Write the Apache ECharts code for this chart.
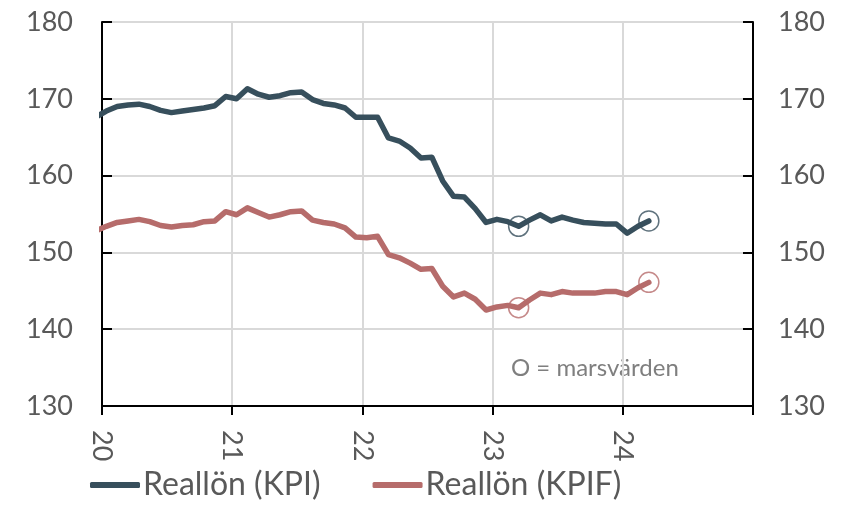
<!DOCTYPE html>
<html>
<head>
<meta charset="utf-8">
<script src="https://cdn.jsdelivr.net/npm/echarts@6/dist/echarts.min.js"></script>
<style>
  html, body { margin: 0; padding: 0; background: #fff; }
  #main { width: 844px; height: 506px; }
</style>
</head>
<body>
<div id="main"></div>
<script>
// manader, dec 2019 - mar 2024
var months = [
  '2019-12',
  '2020-01', '2020-02', '2020-03', '2020-04', '2020-05', '2020-06', '2020-07', '2020-08', '2020-09', '2020-10', '2020-11', '2020-12',
  '2021-01', '2021-02', '2021-03', '2021-04', '2021-05', '2021-06', '2021-07', '2021-08', '2021-09', '2021-10', '2021-11', '2021-12',
  '2022-01', '2022-02', '2022-03', '2022-04', '2022-05', '2022-06', '2022-07', '2022-08', '2022-09', '2022-10', '2022-11', '2022-12',
  '2023-01', '2023-02', '2023-03', '2023-04', '2023-05', '2023-06', '2023-07', '2023-08', '2023-09', '2023-10', '2023-11', '2023-12',
  '2024-01', '2024-02', '2024-03'
];
var realKPI = [
  167.6,
  168.4, 169.0, 169.2, 169.3, 169.0, 168.5, 168.2, 168.4, 168.6, 168.8, 169.1, 170.3,
  170.0, 171.3, 170.6, 170.2, 170.4, 170.8, 170.9, 169.9, 169.4, 169.2, 168.8, 167.6,
  167.6, 167.6, 164.9, 164.5, 163.6, 162.3, 162.4, 159.3, 157.3, 157.2, 155.7, 153.9,
  154.3, 154.0, 153.4, 154.2, 154.9, 154.1, 154.6, 154.2, 153.9, 153.8, 153.7, 153.7,
  152.5, 153.4, 154.1
];
var realKPIF = [
  152.8,
  153.4, 153.9, 154.1, 154.3, 154.0, 153.5, 153.3, 153.5, 153.6, 154.0, 154.1, 155.3,
  154.9, 155.8, 155.2, 154.6, 154.9, 155.3, 155.4, 154.2, 153.9, 153.7, 153.2, 152.0,
  151.9, 152.1, 149.7, 149.3, 148.6, 147.8, 147.9, 145.6, 144.2, 144.7, 143.9, 142.5,
  142.9, 143.1, 142.8, 143.8, 144.7, 144.5, 144.9, 144.7, 144.7, 144.7, 144.9, 144.9,
  144.5, 145.4, 146.1
];
var yearLabels = ['20', '21', '22', '23', '24'];
var markedMonths = ['2023-03', '2024-03'];

var c1 = '#374f5c', c2 = '#b66c6b';
var textColor = '#595959';

function monthPos(m) {
  var p = m.split('-');
  return (+p[0] - 2020) * 12 + (+p[1] - 1) + 0.4;
}
function toPairs(vals) {
  return months.map(function (m, i) { return [monthPos(m), vals[i]]; });
}
function marks(vals) {
  return months.map(function (m, i) { return [monthPos(m), vals[i], m]; })
    .filter(function (d) { return markedMonths.indexOf(d[2]) >= 0; });
}

var myChart = echarts.init(document.getElementById('main'));
var font = 'Lato, "Open Sans", sans-serif';
var option = {
  animation: false,
  textStyle: { fontFamily: font },
  grid: { left: 102, right: 91, top: 22, bottom: 100, containLabel: false },
  legend: {
    left: 85, bottom: 0,
    itemWidth: 50, itemHeight: 6, itemGap: 52,
    icon: 'roundRect',
    textStyle: { fontSize: 32, color: textColor, fontFamily: font, padding: [0, 0, 0, -2] },
    data: ['Reallön (KPI)', 'Reallön (KPIF)']
  },
  xAxis: {
    type: 'value', min: 0, max: 60, interval: 12,
    axisLine: { lineStyle: { color: '#000', width: 2 } },
    axisTick: { show: true, length: 9, lineStyle: { color: '#000', width: 2 } },
    splitLine: { show: true, lineStyle: { color: '#d9d9d9', width: 2 } },
    axisLabel: {
      rotate: -90, margin: 24, fontSize: 27, color: textColor,
      formatter: function (v) { return yearLabels[v / 12] || ''; }
    }
  },
  yAxis: [{
    type: 'value', min: 130, max: 180, interval: 10, position: 'left',
    axisLine: { show: true, lineStyle: { color: '#000', width: 2 } },
    axisTick: { show: true, inside: true, length: 10, lineStyle: { color: '#000', width: 2 } },
    splitLine: { show: true, lineStyle: { color: '#d9d9d9', width: 2 } },
    axisLabel: { margin: 29, fontSize: 27, color: textColor }
  }, {
    type: 'value', min: 130, max: 180, interval: 10, position: 'right',
    axisLine: { show: true, lineStyle: { color: '#000', width: 2 } },
    axisTick: { show: true, inside: true, length: 10, lineStyle: { color: '#000', width: 2 } },
    splitLine: { show: false },
    axisLabel: { margin: 25, fontSize: 27, color: textColor }
  }],
  graphic: [{
    type: 'text', left: 511, top: 356,
    style: { text: 'O = marsvärden', fontSize: 24, fill: '#7f7f7f', fontFamily: font }
  }],
  series: [
    {
      name: 'Reallön (KPI)', type: 'line', data: toPairs(realKPI),
      showSymbol: false, clip: true,
      lineStyle: { color: c1, width: 5.5, cap: 'round', join: 'round' },
      itemStyle: { color: c1 }
    },
    {
      name: 'Reallön (KPIF)', type: 'line', data: toPairs(realKPIF),
      showSymbol: false, clip: true,
      lineStyle: { color: c2, width: 5.5, cap: 'round', join: 'round' },
      itemStyle: { color: c2 }
    },
    {
      name: 'mars KPI', type: 'scatter', data: marks(realKPI),
      symbol: 'circle', symbolSize: 20,
      itemStyle: { color: 'rgba(0,0,0,0)', borderColor: c1, borderWidth: 1.5 }
    },
    {
      name: 'mars KPIF', type: 'scatter', data: marks(realKPIF),
      symbol: 'circle', symbolSize: 20,
      itemStyle: { color: 'rgba(0,0,0,0)', borderColor: c2, borderWidth: 1.5 }
    }
  ]
};
myChart.setOption(option);
</script>
</body>
</html>
